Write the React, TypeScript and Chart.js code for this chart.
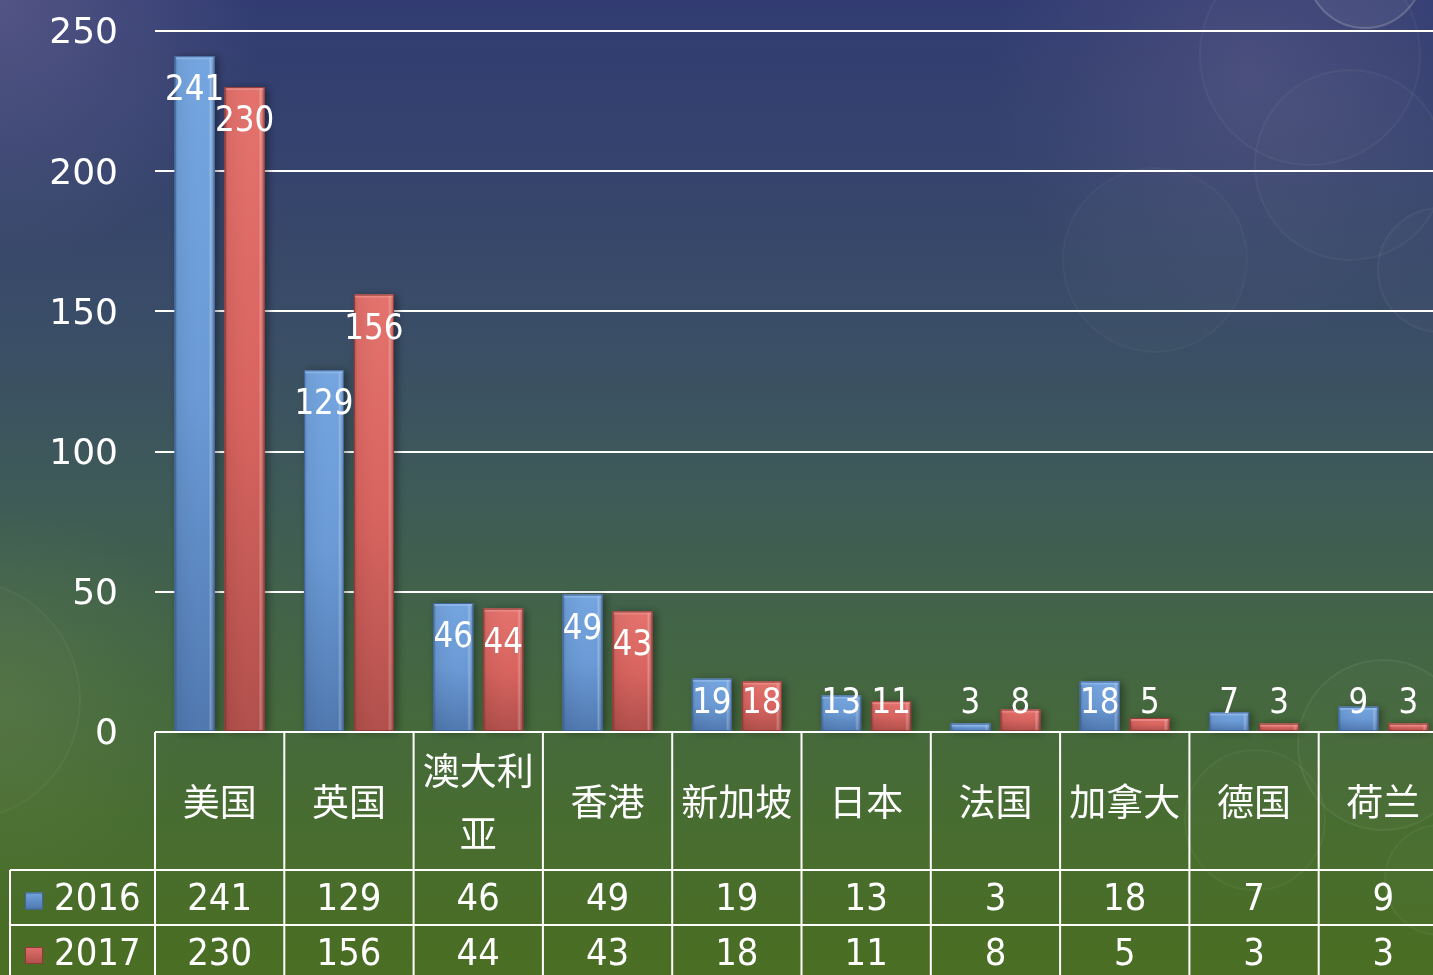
import React, { useEffect, useRef } from "react";
import { Chart, registerables } from "chart.js";

Chart.register(...registerables);

const categories = ["美国", "英国", "澳大利亚", "香港", "新加坡", "日本", "法国", "加拿大", "德国", "荷兰"];
const seriesNames = ["2016", "2017"];
const values2016 = [241, 129, 46, 49, 19, 13, 3, 18, 7, 9];
const values2017 = [230, 156, 44, 43, 18, 11, 8, 5, 3, 3];
const yTicks = [0, 50, 100, 150, 200, 250];

const BLUE = { top: "#74a5e0", mid: "#6a9ad6", bottom: "#4f78b0", edge: "#41659a", light: "#9cc2ee" };
const RED = { top: "#e4716c", mid: "#d9635e", bottom: "#b14f4b", edge: "#8f3a37", light: "#f09a95" };
const palettes = [BLUE, RED];

const LATIN = '"DejaVu Sans", Verdana, sans-serif';
const CJK = '"Noto Sans CJK SC", "Noto Sans", sans-serif';

const backgroundPlugin = {
  id: "bg",
  beforeDraw(chart: any) {
    const { ctx, width, height } = chart;
    ctx.save();
    const g = ctx.createLinearGradient(0, 0, 0, height);
    g.addColorStop(0, "#323c72");
    g.addColorStop(0.15, "#35426e");
    g.addColorStop(0.35, "#3a4e66");
    g.addColorStop(0.5, "#3e5a58");
    g.addColorStop(0.65, "#436546");
    g.addColorStop(0.85, "#486d30");
    g.addColorStop(1, "#4a6e22");
    ctx.fillStyle = g;
    ctx.fillRect(0, 0, width, height);
    const r1 = ctx.createRadialGradient(0, 0, 0, 0, 0, 260);
    r1.addColorStop(0, "rgba(130,120,160,0.4)");
    r1.addColorStop(1, "rgba(130,120,160,0)");
    ctx.fillStyle = r1;
    ctx.fillRect(0, 0, 300, 300);
    const r2 = ctx.createRadialGradient(1250, 80, 0, 1250, 80, 260);
    r2.addColorStop(0, "rgba(120,110,150,0.3)");
    r2.addColorStop(1, "rgba(120,110,150,0)");
    ctx.fillStyle = r2;
    ctx.fillRect(950, 0, 500, 400);
    const r3 = ctx.createRadialGradient(0, 700, 0, 0, 700, 200);
    r3.addColorStop(0, "rgba(120,150,80,0.25)");
    r3.addColorStop(1, "rgba(120,150,80,0)");
    ctx.fillStyle = r3;
    ctx.fillRect(0, 480, 220, 440);
    const circles = [
      [1365, -30, 58, 0.22],
      [1310, 55, 110, 0.05],
      [1350, 165, 95, 0.05],
      [1155, 260, 92, 0.04],
      [1440, 270, 62, 0.06],
      [1383, 745, 85, 0.08],
      [1255, 820, 70, 0.05],
      [1440, 880, 55, 0.06],
      [-40, 700, 120, 0.05],
    ];
    for (const [cx, cy, r, a] of circles) {
      ctx.beginPath();
      ctx.arc(cx, cy, r, 0, Math.PI * 2);
      ctx.fillStyle = `rgba(255,255,255,${a * 0.25})`;
      ctx.fill();
      ctx.lineWidth = 2;
      ctx.strokeStyle = `rgba(230,235,220,${a})`;
      ctx.stroke();
    }
    ctx.restore();
  },
};

const barStylePlugin = {
  id: "barStyle",
  afterDatasetsDraw(chart: any) {
    const { ctx } = chart;
    ctx.save();
    chart.data.datasets.forEach((ds: any, di: number) => {
      const meta = chart.getDatasetMeta(di);
      const p = palettes[di];
      meta.data.forEach((bar: any) => {
        const w = bar.width;
        const left = bar.x - w / 2;
        const top = bar.y;
        const h = bar.base - bar.y;
        ctx.save();
        ctx.shadowColor = "rgba(0,0,0,0.4)";
        ctx.shadowBlur = 8;
        ctx.shadowOffsetX = 3;
        ctx.shadowOffsetY = 1;
        const vg = ctx.createLinearGradient(0, top, 0, bar.base);
        vg.addColorStop(0, p.top);
        vg.addColorStop(0.5, p.mid);
        vg.addColorStop(1, p.bottom);
        ctx.fillStyle = vg;
        ctx.fillRect(left, top, w, h);
        ctx.restore();
        const hg = ctx.createLinearGradient(left, 0, left + w, 0);
        hg.addColorStop(0, "rgba(0,0,0,0.25)");
        hg.addColorStop(0.08, "rgba(0,0,0,0.05)");
        hg.addColorStop(0.85, "rgba(255,255,255,0)");
        hg.addColorStop(0.9, "rgba(255,255,255,0.25)");
        hg.addColorStop(1, "rgba(0,0,0,0.15)");
        ctx.fillStyle = hg;
        ctx.fillRect(left, top, w, h);
        ctx.fillStyle = p.light;
        ctx.globalAlpha = 0.6;
        ctx.fillRect(left + 1, top, w - 2, Math.min(3, h));
        ctx.globalAlpha = 1;
        ctx.strokeStyle = p.edge;
        ctx.lineWidth = 1;
        ctx.strokeRect(left + 0.5, top + 0.5, w - 1, Math.max(h - 1, 0));
      });
    });
    ctx.fillStyle = "#ffffff";
    ctx.font = `31px ${LATIN}`;
    ctx.textAlign = "center";
    ctx.textBaseline = "middle";
    chart.data.datasets.forEach((ds: any, di: number) => {
      const meta = chart.getDatasetMeta(di);
      meta.data.forEach((bar: any, i: number) => {
        const y = Math.min(bar.y + 35, bar.base - 27);
        ctx.save();
        ctx.translate(bar.x, y);
        ctx.scale(1, 1.12);
        ctx.fillText(String(ds.data[i]), 0, 0);
        ctx.restore();
      });
    });
    ctx.restore();
  },
};

const tablePlugin = {
  id: "dataTable",
  afterDraw(chart: any) {
    const { ctx, chartArea } = chart;
    const xs = chart.scales.x;
    const n = categories.length;
    const catW = (chartArea.right - chartArea.left) / n;
    const top = chartArea.bottom;
    const headerBottom = top + 138;
    const row1Bottom = headerBottom + 55;
    const bottom = chart.height + 5;
    const tableLeft = 10;
    ctx.save();
    ctx.strokeStyle = "#ffffff";
    ctx.lineWidth = 2;
    ctx.beginPath();
    ctx.moveTo(chartArea.left, top);
    ctx.lineTo(chartArea.right, top);
    ctx.moveTo(tableLeft, headerBottom);
    ctx.lineTo(chartArea.right, headerBottom);
    ctx.moveTo(tableLeft, row1Bottom);
    ctx.lineTo(chartArea.right, row1Bottom);
    ctx.moveTo(tableLeft, headerBottom);
    ctx.lineTo(tableLeft, bottom);
    for (let i = 0; i <= n; i++) {
      const x = chartArea.left + i * catW;
      ctx.moveTo(x, top);
      ctx.lineTo(x, bottom);
    }
    ctx.stroke();

    ctx.fillStyle = "#ffffff";
    ctx.textAlign = "center";
    ctx.textBaseline = "middle";
    ctx.font = `37px ${CJK}`;
    categories.forEach((c, i) => {
      const cx = xs.getPixelForValue(i);
      const lines: string[] = [];
      let cur = "";
      for (const ch of c) {
        if (ctx.measureText(cur + ch).width > catW - 6 && cur) {
          lines.push(cur);
          cur = ch;
        } else cur += ch;
      }
      lines.push(cur);
      const lh = 63;
      const midY = (top + headerBottom) / 2 + 1;
      lines.forEach((ln, li) => {
        ctx.fillText(ln, cx, midY + (li - (lines.length - 1) / 2) * lh);
      });
    });
    ctx.font = `34px ${LATIN}`;
    const rows = [values2016, values2017];
    const rowY = [(headerBottom + row1Bottom) / 2 + 3, row1Bottom + 30];
    const drawScaled = (t: string, x: number, y: number) => {
      ctx.save();
      ctx.translate(x, y);
      ctx.scale(1, 1.12);
      ctx.fillText(t, 0, 0);
      ctx.restore();
    };
    rows.forEach((vals, ri) => {
      vals.forEach((v, i) => {
        drawScaled(String(v), xs.getPixelForValue(i), rowY[ri]);
      });
      const p = palettes[ri];
      const ky = rowY[ri];
      const g = ctx.createLinearGradient(0, ky - 9, 0, ky + 9);
      g.addColorStop(0, p.top);
      g.addColorStop(1, p.bottom);
      ctx.fillStyle = g;
      ctx.fillRect(25, ky - 8, 18, 17);
      ctx.strokeStyle = p.edge;
      ctx.lineWidth = 1;
      ctx.strokeRect(25.5, ky - 7.5, 17, 16);
      ctx.fillStyle = "#ffffff";
      ctx.textAlign = "left";
      drawScaled(seriesNames[ri], 54, ky);
      ctx.textAlign = "center";
    });
    ctx.restore();
  },
};

export default function App() {
  const ref = useRef<HTMLCanvasElement | null>(null);
  useEffect(() => {
    if (!ref.current) return;
    const chart = new Chart(ref.current, {
      type: "bar",
      data: {
        labels: categories,
        datasets: [
          { label: seriesNames[0], data: values2016, backgroundColor: BLUE.mid, categoryPercentage: 0.773, barPercentage: 0.8 },
          { label: seriesNames[1], data: values2017, backgroundColor: RED.mid, categoryPercentage: 0.773, barPercentage: 0.8 },
        ],
      },
      options: {
        responsive: false,
        animation: false,
        devicePixelRatio: 1,
        layout: { padding: { top: 31, bottom: 243, left: 0, right: 2 } },
        plugins: { legend: { display: false }, tooltip: { enabled: false } },
        scales: {
          x: { display: false },
          y: {
            min: 0,
            max: 250,
            afterFit: (s: any) => {
              s.width = 155;
              s.paddingTop = 0;
              s.paddingBottom = 0;
            },
            afterBuildTicks: (s: any) => {
              s.ticks = yTicks.map((v) => ({ value: v }));
            },
            border: { display: false },
            grid: { color: "#ffffff", lineWidth: 2, drawTicks: false },
            ticks: { color: "#ffffff", padding: 37, labelOffset: 3, font: { family: LATIN, size: 36 } },
          },
        },
      },
      plugins: [backgroundPlugin, barStylePlugin, tablePlugin],
    });
    return () => chart.destroy();
  }, []);
  return (
    <div style={{ position: "fixed", left: 0, top: 0, width: 1433, height: 975, overflow: "hidden" }}>
      <canvas ref={ref} width={1450} height={975} style={{ display: "block", width: 1450, height: 975 }} />
    </div>
  );
}
